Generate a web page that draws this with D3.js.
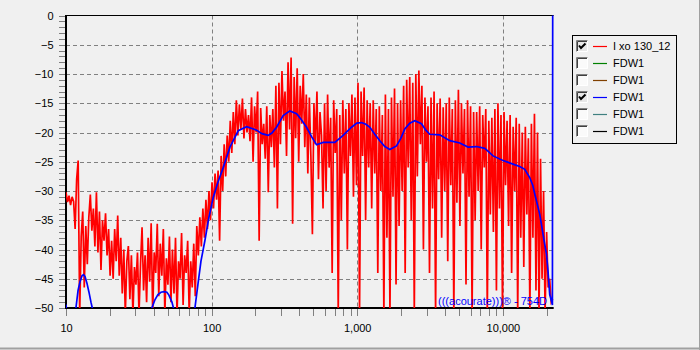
<!DOCTYPE html>
<html><head><meta charset="utf-8">
<script src="https://cdn.jsdelivr.net/npm/d3@7"></script>
<style>
body{margin:0;background:#f0f0f0;}
svg{display:block;}
text{font-family:"Liberation Sans",Arial,sans-serif;font-size:11px;}
</style></head>
<body><svg id="c" width="700" height="350"></svg>
<script>
// ---------- data ----------
const freqMin = 10, freqMax = 22000;
const yTicksMajor = [0,-5,-10,-15,-20,-25,-30,-35,-40,-45,-50];
const xTickLabels = [10,100,1000,10000];
const legendNames = ["I xo 130_12","FDW1","FDW1","FDW1","FDW1","FDW1"];
const legendColors = ["#ff0000","#008000","#804000","#0000ff","#408080","#000000"];
const legendChecked = [true,false,false,true,false,false];
const watermark = "(((acourate)))\u00AE - 754D";

// red measurement (log-spaced frequency grid from freqMin to freqMax)
const redDb = [
 -30.2,-31.9,-30.8,-32.4,-31.0,-31.8,-36.5,-28.0,-24.8,-51,
 -37.8,-33.5,-46.5,-36.0,-42.5,-34.5,-30.6,-36.8,-33.0,-39.5,
 -30.2,-40.5,-33.5,-43.5,-35.0,-38.5,-33.8,-41.0,-36.5,-44.5,
 -38.5,-45.0,-36.5,-42.0,-34.2,-44.5,-38.0,-47.5,-40.0,-51,
 -42.0,-39.4,-48.5,-41.0,-51,-43.0,-46.0,-40.5,-51,-42.5,
 -36.2,-47.0,-41.0,-49.0,-38.0,-45.5,-35.5,-51,-40.5,-44.0,
 -35.6,-48.0,-39.0,-44.5,-36.5,-51,-41.5,-46.0,-37.8,-49.0,
 -40.0,-47.5,-38.0,-51,-42.0,-45.0,-37.2,-49.5,-41.0,-44.0,
 -38.5,-51,-42.0,-46.5,-39.0,-48.0,-36.0,-41.0,-34.5,-39.5,
 -33.0,-38.0,-31.5,-36.5,-30.0,-35.0,-28.5,-33.0,-27.0,-31.5,
 -26.5,-38.5,-24.0,-30.0,-22.0,-27.5,-20.5,-25.0,-18.0,-23.5,
 -16.5,-22.0,-14.5,-20.5,-15.2,-19.5,-14.2,-21.0,-16.0,-20.0,
 -17.0,-21.5,-14.0,-25.0,-15.5,-20.0,-13.0,-38.5,-15.8,-22.0,
 -18.5,-24.5,-15.5,-30.2,-17.0,-22.5,-16.0,-26.0,-12.0,-33.0,
 -11.5,-22.0,-9.5,-18.0,-13.0,-24.0,-8.0,-19.5,-7.2,-35.6,
 -10.5,-21.0,-9.0,-25.0,-12.0,-18.5,-10.0,-22.5,-13.5,-27.0,
 -14.0,-24.0,-37.4,-15.0,-22.0,-13.0,-28.0,-16.5,-20.5,-33.0,
 -15.0,-30.0,-13.5,-26.0,-17.5,-44.0,-14.5,-23.5,-16.0,-51,
 -17.0,-35.0,-14.5,-27.0,-16.0,-40.0,-15.0,-24.0,-13.5,-31.0,
 -14.0,-29.0,-11.5,-51,-13.0,-24.0,-12.3,-35.0,-14.5,-26.0,
 -15.0,-33.0,-14.5,-27.0,-16.0,-44.0,-15.5,-30.0,-17.0,-51,
 -13.5,-38.0,-16.0,-51,-14.0,-31.0,-12.5,-46.0,-15.0,-36.0,
 -14.5,-30.0,-12.0,-44.0,-11.0,-26.0,-10.5,-35.0,-11.5,-51,
 -10.0,-27.5,-9.4,-22.0,-12.0,-40.0,-14.0,-25.0,-15.5,-44.0,
 -14.0,-33.0,-13.0,-51,-15.0,-28.0,-14.2,-38.0,-15.7,-30.0,
 -15.0,-42.0,-14.0,-29.0,-16.0,-51,-14.5,-32.0,-12.7,-36.0,
 -15.0,-27.0,-16.0,-46.0,-14.5,-31.0,-15.5,-51,-16.5,-35.0,
 -16.5,-30.0,-15.5,-40.0,-17.0,-26.0,-16.0,-51,-18.0,-34.0,
 -17.5,-37.0,-16.0,-47.0,-15.0,-33.0,-17.0,-51,-16.5,-29.0,
 -18.0,-36.0,-17.0,-44.0,-19.0,-30.0,-17.5,-51,-18.5,-38.0,
 -20.0,-43.0,-19.0,-34.0,-21.0,-51,-18.5,-38.0,-16.8,-47.0,
 -20.0,-51,-24.5,-45.0,-30.0,-51,-37.0,-46.5,-45.0,-49.0,
 -48.5
];

// blue filtered response
const blueFreq = [10,10.24,11.35,11.7,12.1,12.48,12.88,13.19,13.5,13.94,14.38,14.84,15.32,16.07,32.2,37.7,38.9,40.8,42.8,44.9,47.1,49.3,50.9,53.4,55.1,58.7,71,76.8,80.5,84.5,89.9,95.8,102.6,110.5,120.1,133.6,152.3,173.9,203.7,221.4,244.6,259.4,279.3,310,344.7,383.1,410.2,448.8,488,525.7,583.4,702.1,800.3,914,993.8,1070,1146,1221,1321,1429,1547,1674,1861,1992,2122,2296,2485,2763,2957,3150,3689,4321,5060,5771,6590,7512,8003,8565,10030,11750,13060,14140,15300,16040,16560,17220,17920,18410,18880,19390,19930,20430,20660,20990,21560,21900,22000];
const blueDb = [-49.4,-52,-55,-50,-47,-45.5,-44.5,-44.3,-44.6,-45.8,-47.3,-49,-50.5,-55,-58,-52,-50,-48.6,-47.7,-47.3,-47.2,-47.3,-47.8,-49,-50.3,-54,-56,-50,-46,-42,-38.5,-34.5,-31.1,-28.5,-26,-22.5,-19.7,-19.0,-19.6,-20.2,-20.5,-20.1,-19.1,-17.1,-16.3,-16.8,-17.7,-19.1,-20.8,-22.1,-21.7,-21.7,-20.5,-19.1,-18.4,-18.3,-18.6,-19.1,-20.3,-21.4,-22.4,-22.9,-22.3,-21,-19.4,-18.4,-18.0,-18.5,-19.6,-20.3,-20.4,-21.4,-21.8,-22.5,-22.4,-22.7,-23.3,-24.0,-24.8,-25.4,-25.8,-26.3,-27.7,-29,-30.5,-32.2,-34,-35.7,-37.4,-39.1,-40.8,-43.7,-45.4,-47.7,-48.8,-49.5,0];

// ---------- chart ----------
const svg = d3.select("#c");
const L = 66, R = 552.7, T = 15.5, B = 308;
const x = d3.scaleLog().domain([freqMin, freqMax]).range([L, R]);
const y = d3.scaleLinear().domain([-50, 0]).range([B, T]);

// window frame
svg.append("line").attr("x1",699.5).attr("x2",699.5).attr("y1",0).attr("y2",350).attr("stroke","#a0a0a0");
svg.append("line").attr("x1",0).attr("x2",700).attr("y1",348.5).attr("y2",348.5).attr("stroke","#a0a0a0").attr("stroke-width",2);

svg.append("clipPath").attr("id","clip").append("rect")
  .attr("x", L).attr("y", T-1).attr("width", R - L + 2).attr("height", B - T + 1);

// grid
const g = svg.append("g");
g.selectAll("line.hg").data(yTicksMajor.filter(v => v > -50 && v < 0)).join("line")
  .attr("x1", L).attr("x2", R).attr("y1", d => Math.round(y(d))+0.5).attr("y2", d => Math.round(y(d))+0.5)
  .attr("stroke","#808080").attr("stroke-dasharray","4,3");
g.selectAll("line.vg").data(xTickLabels.filter(v => v > 10)).join("line")
  .attr("y1", T).attr("y2", B).attr("x1", d => Math.round(x(d))+0.5).attr("x2", d => Math.round(x(d))+0.5)
  .attr("stroke","#808080").attr("stroke-dasharray","4,3");

// axes
const yMinor = d3.range(-50, 1, 1);
const yAxis = d3.axisLeft(y).tickValues(yMinor).tickSize(7).tickPadding(5)
  .tickFormat(d => (d % 5 === 0) ? d3.format("d")(d) : "");
const yg = svg.append("g").attr("transform", `translate(${L-0.5},0)`).call(yAxis);
yg.select(".domain").remove();
yg.selectAll(".tick line").attr("stroke","#808080").attr("shape-rendering","crispEdges");
yg.selectAll(".tick text").attr("fill","#000").style("font-size","11px").style("font-family","Liberation Sans, Arial, sans-serif");

const xMinor = [];
[10,100,1000,10000].forEach(dec => { for (let k = 1; k <= 9; k++) if (dec*k <= freqMax) xMinor.push(dec*k); });
const xAxis = d3.axisBottom(x).tickValues(xMinor).tickSize(7).tickPadding(9)
  .tickFormat(d => xTickLabels.includes(d) ? d3.format(",")(d) : "");
const xg = svg.append("g").attr("transform", `translate(0,${B+0.5})`).call(xAxis);
xg.select(".domain").remove();
xg.selectAll(".tick line").attr("stroke","#808080").attr("shape-rendering","crispEdges");
xg.selectAll(".tick text").attr("fill","#000").style("font-size","11px").style("font-family","Liberation Sans, Arial, sans-serif");

// frame
svg.append("line").attr("x1", L).attr("x2", R+1).attr("y1", T).attr("y2", T).attr("stroke","#000");
svg.append("line").attr("x1", L).attr("x2", L).attr("y1", T-0.5).attr("y2", B+1).attr("stroke","#000").attr("stroke-width",2);
svg.append("line").attr("x1", L-1).attr("x2", R+1).attr("y1", B).attr("y2", B).attr("stroke","#000").attr("stroke-width",2);

// data lines
const n = redDb.length;
const redFreq = redDb.map((_, i) => freqMin * Math.pow(freqMax / freqMin, i / (n - 1)));
const plot = svg.append("g").attr("clip-path","url(#clip)");
const line = d3.line().x(d => x(d[0])).y(d => y(d[1]));
plot.append("path").datum(redFreq.map((f,i) => [f, redDb[i]]))
  .attr("d", line).attr("fill","none").attr("stroke","#ff0000").attr("stroke-width",1.7);
plot.append("path").datum(blueFreq.map((f,i) => [f, blueDb[i]]))
  .attr("d", line).attr("fill","none").attr("stroke","#0000ff").attr("stroke-width",1.7);

// watermark
svg.append("text").attr("x", 547).attr("y", 305).attr("text-anchor","end")
  .attr("fill","#0000ff").text(watermark);

// legend
const lg = svg.append("g");
lg.append("rect").attr("x",572.5).attr("y",35.5).attr("width",104).attr("height",108)
  .attr("fill","none").attr("stroke","#000");
legendNames.forEach((name, i) => {
  const cy = 46 + i * 17;
  const bx = 576, by = cy - 6;
  lg.append("rect").attr("x", bx).attr("y", by).attr("width", 12).attr("height", 12).attr("fill", legendChecked[i] ? "#e8e8e8" : "#fafafa");
  lg.append("path").attr("d", `M${bx+0.5},${by+12}V${by+0.5}H${bx+12}`).attr("fill","none").attr("stroke","#808080").attr("stroke-width",1);
  lg.append("path").attr("d", `M${bx+1.5},${by+11}V${by+1.5}H${bx+11}`).attr("fill","none").attr("stroke","#404040").attr("stroke-width",1);
  lg.append("path").attr("d", `M${bx+0.5},${by+11.5}H${bx+11.5}V${by+0.5}`).attr("fill","none").attr("stroke","#ffffff").attr("stroke-width",1);
  if (legendChecked[i]) {
    lg.append("path").attr("d", `M${bx+3},${by+5.5}L${bx+5},${by+8}L${bx+9.5},${by+3.5}`)
      .attr("fill","none").attr("stroke","#000").attr("stroke-width",2);
  }
  lg.append("line").attr("x1",593).attr("x2",607).attr("y1",cy+0.5).attr("y2",cy+0.5)
    .attr("stroke", legendColors[i]).attr("stroke-width",1.2);
  lg.append("text").attr("x",613).attr("y",cy+4).attr("fill","#000").text(name);
});
</script>
</body></html>
